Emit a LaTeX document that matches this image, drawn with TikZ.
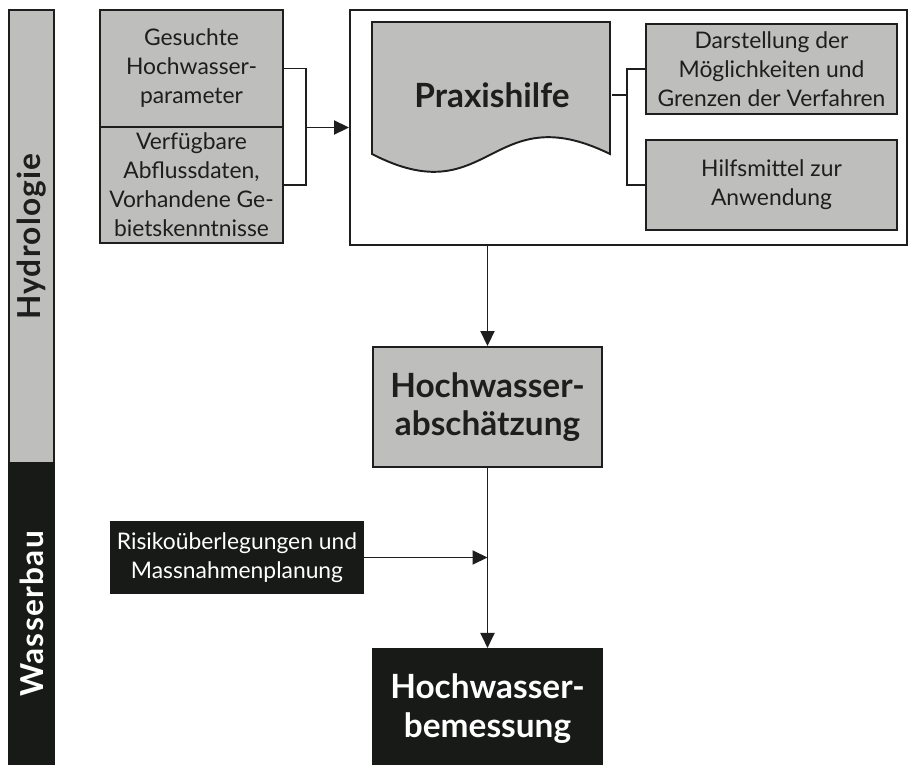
\documentclass[tikz,border=0pt]{standalone}
\usepackage{fontspec}
\usepackage{graphicx}
\setmainfont{Lato}
\usetikzlibrary{arrows.meta, positioning}
\definecolor{hgrey}{RGB}{190,190,188}
\definecolor{wdark}{RGB}{24,26,24}
\definecolor{ink}{RGB}{30,30,30}

\begin{document}
\begin{tikzpicture}[color=ink, line width=1.1pt,
    greybox/.style={draw, fill=hgrey, rectangle, align=center, inner sep=0pt},
    darkbox/.style={draw=wdark, fill=wdark, rectangle, text=white, align=center, inner sep=0pt},
    small/.style={font=\fontsize{13}{16.5}\selectfont},
    big/.style={font=\fontsize{19}{22}\selectfont\bfseries},
    side/.style={font=\fontsize{18}{22}\selectfont\bfseries\addfontfeature{LetterSpace=4}},
    >={Triangle[length=0.3cm, width=0.28cm]}]
    \useasboundingbox (0,0) rectangle (18.18,-15.3);

    \node (hydro) [greybox, side, minimum width=0.9cm, minimum height=9.06cm] at (0.63,-4.73) {\rotatebox{90}{Hydrologie}};
    \node (wasser) [darkbox, side, minimum width=0.9cm, minimum height=6.04cm] at (0.63,-12.28) {\rotatebox{90}{Wasserbau}};

    \node (gesucht) [greybox, small, minimum width=3.66cm, minimum height=2.34cm] at (3.83,-1.37) {Gesuchte\\Hochwasser-\\parameter};
    \node (verfueg) [greybox, small, minimum width=3.66cm, minimum height=2.32cm, below=-1.1pt of gesucht] {Verfügbare\\Abflussdaten,\\Vorhandene Ge-\\bietskenntnisse};

    \node (frame) [draw, rectangle, minimum width=11.14cm, minimum height=4.70cm] at (12.57,-2.55) {};
    \draw [fill=hgrey] (7.44,-0.44) -- (12.2,-0.44) -- (12.2,-3.08) .. controls (9.8,-1.9) and (9.8,-4.3) .. (7.44,-3.08) -- cycle;
    \node (praxis) [big, minimum width=4.76cm, inner sep=0pt] at (9.84,-1.9) {Praxishilfe};

    \node (darst) [greybox, small, minimum width=5.02cm, minimum height=1.80cm] at (15.43,-1.38) {Darstellung der\\Möglichkeiten und\\Grenzen der Verfahren};
    \node (hilfs) [greybox, small, minimum width=5.02cm, minimum height=1.80cm, below=0.48cm of darst] {Hilfsmittel zur\\Anwendung};

    \node (abschaetz) [greybox, big, minimum width=4.58cm, minimum height=2.40cm] at (9.75,-8.14) {Hochwasser-\\abschätzung};
    \node (risiko) [darkbox, small, minimum width=5.04cm, minimum height=1.42cm] at (4.74,-11.15) {Risikoüberlegungen und\\Massnahmenplanung};
    \node (bemess) [darkbox, big, minimum width=4.58cm, minimum height=2.40cm, below=3.6cm of abschaetz] {Hochwasser-\\bemessung};

    \draw (gesucht.east) -- ++(0.44,0) coordinate (brL) |- (verfueg.east);
    \draw [->] (brL |- frame.west) -- (frame.west);
    \draw (darst.west) -- ++(-0.36,0) coordinate (brR) |- (hilfs.west);
    \draw (praxis.east) -- (praxis.east -| brR);
    \draw [->] (frame.south -| abschaetz.north) -- (abschaetz.north);
    \draw [->] (abschaetz.south) -- (bemess.north);
    \draw [->] (risiko.east) -- (risiko.east -| abschaetz.south);
\end{tikzpicture}
\end{document}
